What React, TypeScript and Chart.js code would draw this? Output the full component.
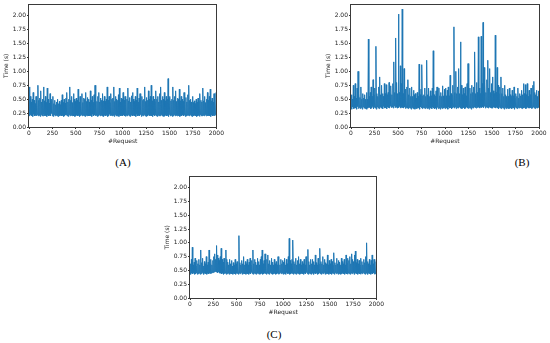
import React, { useEffect, useRef } from 'react';
import { Chart, registerables } from 'chart.js';
Chart.register(...registerables);

// Tick labels
const xTicks = [0, 250, 500, 750, 1000, 1250, 1500, 1750, 2000];
const yTicks = [0, 0.25, 0.5, 0.75, 1.0, 1.25, 1.5, 1.75, 2.0];
const xMax = 2000;
const yMax = 2.2;
const binSize = 10; // requests per bin (low / high envelope)

// (A) response time envelope per bin of 10 requests
const aHighs = [
  0.72, 0.55, 0.45, 0.5, 0.62, 0.48, 0.42, 0.55, 0.5, 0.75,
  0.48, 0.52, 0.65, 0.45, 0.5, 0.72, 0.47, 0.55, 0.44, 0.7,
  0.5, 0.43, 0.6, 0.46, 0.5, 0.55, 0.42, 0.48, 0.4, 0.45,
  0.5, 0.42, 0.46, 0.4, 0.48, 0.58, 0.44, 0.5, 0.43, 0.52,
  0.62, 0.45, 0.5, 0.72, 0.48, 0.55, 0.44, 0.6, 0.5, 0.46,
  0.52, 0.48, 0.68, 0.45, 0.55, 0.47, 0.6, 0.44, 0.52, 0.5,
  0.62, 0.46, 0.53, 0.5, 0.45, 0.65, 0.48, 0.55, 0.44, 0.58,
  0.75, 0.5, 0.46, 0.55, 0.62, 0.45, 0.52, 0.48, 0.6, 0.47,
  0.55, 0.46, 0.5, 0.72, 0.48, 0.55, 0.44, 0.6, 0.5, 0.52,
  0.72, 0.46, 0.55, 0.5, 0.48, 0.58, 0.7, 0.45, 0.52, 0.5,
  0.62, 0.48, 0.55, 0.46, 0.5, 0.7, 0.47, 0.53, 0.45, 0.56,
  0.62, 0.5, 0.46, 0.55, 0.48, 0.7, 0.45, 0.52, 0.6, 0.47,
  0.55, 0.48, 0.5, 0.72, 0.46, 0.53, 0.48, 0.65, 0.5, 0.55,
  0.75, 0.47, 0.55, 0.5, 0.46, 0.65, 0.5, 0.55, 0.45, 0.6,
  0.72, 0.48, 0.55, 0.5, 0.62, 0.47, 0.55, 0.5, 0.87, 0.52,
  0.55, 0.47, 0.5, 0.72, 0.48, 0.55, 0.65, 0.46, 0.52, 0.5,
  0.68, 0.47, 0.55, 0.5, 0.46, 0.62, 0.48, 0.53, 0.45, 0.58,
  0.75, 0.48, 0.5, 0.45, 0.55, 0.44, 0.47, 0.42, 0.5, 0.45,
  0.52, 0.46, 0.6, 0.48, 0.45, 0.7, 0.47, 0.55, 0.44, 0.5,
  0.62, 0.48, 0.55, 0.68, 0.47, 0.52, 0.45, 0.6, 0.5, 0.62,
];
const aLows = [
  0.21, 0.2, 0.22, 0.2, 0.19, 0.23, 0.2, 0.21, 0.2, 0.22,
  0.2, 0.21, 0.19, 0.22, 0.2, 0.2, 0.23, 0.2, 0.21, 0.19,
  0.22, 0.2, 0.21, 0.2, 0.24, 0.2, 0.19, 0.22, 0.2, 0.21,
  0.2, 0.19, 0.21, 0.2, 0.22, 0.2, 0.21, 0.19, 0.2, 0.22,
  0.21, 0.2, 0.19, 0.22, 0.2, 0.21, 0.2, 0.23, 0.2, 0.19,
  0.2, 0.22, 0.2, 0.21, 0.19, 0.2, 0.22, 0.2, 0.21, 0.2,
  0.19, 0.21, 0.2, 0.22, 0.2, 0.2, 0.21, 0.19, 0.23, 0.2,
  0.22, 0.2, 0.21, 0.19, 0.2, 0.22, 0.2, 0.21, 0.2, 0.19,
  0.2, 0.21, 0.2, 0.22, 0.19, 0.2, 0.23, 0.2, 0.21, 0.2,
  0.21, 0.19, 0.22, 0.2, 0.2, 0.21, 0.19, 0.22, 0.2, 0.21,
  0.2, 0.22, 0.2, 0.19, 0.21, 0.2, 0.22, 0.2, 0.19, 0.21,
  0.22, 0.2, 0.21, 0.2, 0.19, 0.23, 0.2, 0.21, 0.2, 0.22,
  0.19, 0.21, 0.2, 0.22, 0.2, 0.19, 0.21, 0.2, 0.22, 0.2,
  0.21, 0.2, 0.19, 0.22, 0.2, 0.21, 0.2, 0.19, 0.21, 0.2,
  0.2, 0.22, 0.2, 0.21, 0.19, 0.2, 0.22, 0.2, 0.21, 0.19,
  0.22, 0.2, 0.21, 0.19, 0.2, 0.22, 0.2, 0.21, 0.2, 0.22,
  0.2, 0.19, 0.21, 0.2, 0.22, 0.2, 0.21, 0.19, 0.2, 0.21,
  0.21, 0.2, 0.22, 0.2, 0.19, 0.21, 0.2, 0.22, 0.2, 0.19,
  0.2, 0.21, 0.19, 0.22, 0.2, 0.2, 0.21, 0.2, 0.22, 0.2,
  0.22, 0.2, 0.21, 0.2, 0.19, 0.22, 0.2, 0.21, 0.2, 0.22,
];

// (B)
const bHighs = [
  0.58, 0.5, 0.75, 0.55, 0.78, 0.52, 0.7, 1.0, 0.6, 0.53,
  0.72, 0.5, 0.6, 0.52, 0.58, 0.5, 0.62, 0.5, 1.58, 0.55,
  0.62, 0.72, 0.55, 0.85, 0.58, 0.7, 1.45, 0.6, 0.55, 0.72,
  0.9, 0.58, 0.75, 0.6, 0.55, 0.78, 0.6, 0.76, 0.58, 0.62,
  0.8, 0.6, 0.74, 0.58, 0.78, 1.17, 0.62, 1.6, 0.8, 0.6,
  2.03, 0.62, 1.1, 0.78, 2.12, 0.6, 1.05, 0.68, 0.58, 0.72,
  0.85, 0.58, 0.7, 0.55, 0.72, 0.55, 0.66, 0.58, 0.6, 0.52,
  0.62, 0.55, 1.13, 0.58, 0.68, 1.12, 0.56, 0.58, 0.7, 0.55,
  1.2, 0.58, 0.7, 0.55, 0.65, 0.56, 0.7, 1.37, 0.58, 0.55,
  0.65, 0.72, 0.55, 0.7, 0.56, 0.62, 0.55, 0.74, 0.56, 0.68,
  0.7, 0.56, 0.66, 0.72, 0.56, 0.93, 0.6, 0.58, 0.75, 1.8,
  0.62, 1.0, 0.6, 0.72, 1.05, 0.6, 1.53, 0.75, 0.58, 0.7,
  0.6, 0.72, 0.56, 0.78, 1.14, 0.58, 0.7, 0.6, 0.75, 0.62,
  0.72, 1.35, 0.6, 0.8, 0.62, 1.62, 0.7, 0.6, 1.63, 0.78,
  1.88, 1.07, 0.8, 0.62, 0.85, 1.2, 0.7, 1.05, 0.62, 0.78,
  0.9, 0.65, 0.6, 1.65, 0.62, 1.07, 0.75, 0.6, 0.72, 0.9,
  0.6, 0.7, 0.55, 0.75, 0.58, 0.55, 0.68, 0.55, 0.7, 0.58,
  0.55, 0.66, 0.56, 0.72, 0.52, 0.6, 0.55, 0.7, 0.52, 0.6,
  0.56, 0.66, 0.58, 0.78, 0.6, 0.76, 0.58, 0.78, 0.55, 0.66,
  0.58, 0.7, 0.6, 0.75, 0.82, 0.62, 0.58, 0.66, 0.55, 0.65,
];
const bLows = [
  0.34, 0.32, 0.36, 0.33, 0.35, 0.34, 0.32, 0.37, 0.33, 0.35,
  0.33, 0.35, 0.32, 0.36, 0.34, 0.33, 0.35, 0.32, 0.34, 0.36,
  0.35, 0.33, 0.34, 0.37, 0.33, 0.35, 0.34, 0.32, 0.36, 0.34,
  0.33, 0.36, 0.34, 0.35, 0.33, 0.37, 0.34, 0.35, 0.33, 0.36,
  0.35, 0.34, 0.37, 0.35, 0.36, 0.34, 0.38, 0.35, 0.36, 0.34,
  0.36, 0.35, 0.37, 0.34, 0.36, 0.35, 0.34, 0.36, 0.33, 0.35,
  0.34, 0.33, 0.35, 0.34, 0.32, 0.35, 0.33, 0.34, 0.32, 0.35,
  0.33, 0.35, 0.34, 0.32, 0.36, 0.34, 0.33, 0.35, 0.34, 0.33,
  0.35, 0.33, 0.34, 0.32, 0.35, 0.34, 0.33, 0.36, 0.34, 0.33,
  0.34, 0.32, 0.35, 0.33, 0.34, 0.32, 0.35, 0.33, 0.34, 0.35,
  0.33, 0.35, 0.34, 0.32, 0.36, 0.34, 0.35, 0.33, 0.34, 0.36,
  0.34, 0.36, 0.33, 0.35, 0.34, 0.36, 0.35, 0.34, 0.33, 0.35,
  0.35, 0.33, 0.34, 0.36, 0.34, 0.33, 0.35, 0.34, 0.32, 0.35,
  0.34, 0.36, 0.35, 0.34, 0.37, 0.35, 0.36, 0.34, 0.36, 0.35,
  0.36, 0.35, 0.37, 0.34, 0.36, 0.35, 0.34, 0.36, 0.35, 0.34,
  0.35, 0.34, 0.36, 0.35, 0.34, 0.36, 0.34, 0.33, 0.35, 0.34,
  0.33, 0.35, 0.34, 0.32, 0.35, 0.33, 0.34, 0.35, 0.33, 0.34,
  0.34, 0.33, 0.35, 0.34, 0.32, 0.35, 0.34, 0.33, 0.35, 0.34,
  0.35, 0.34, 0.33, 0.36, 0.34, 0.35, 0.33, 0.34, 0.36, 0.34,
  0.34, 0.35, 0.33, 0.34, 0.36, 0.34, 0.33, 0.35, 0.34, 0.35,
];

// (C)
const cHighs = [
  0.62, 0.7, 0.92, 0.6, 0.65, 0.72, 0.58, 0.68, 0.62, 0.7,
  0.6, 0.87, 0.64, 0.72, 0.58, 0.66, 0.62, 0.75, 0.6, 0.65,
  0.87, 0.62, 0.7, 0.6, 0.68, 0.75, 0.8, 0.7, 0.95, 0.78,
  0.72, 0.68, 0.75, 0.9, 0.7, 0.65, 0.72, 0.66, 0.87, 0.7,
  0.65, 0.6, 0.7, 0.62, 0.68, 0.58, 0.64, 0.6, 0.7, 0.62,
  0.66, 0.6, 1.13, 0.64, 0.6, 0.68, 0.62, 0.75, 0.6, 0.66,
  0.62, 0.7, 0.6, 0.65, 0.72, 0.6, 0.68, 0.87, 0.62, 0.7,
  0.65, 0.6, 0.72, 0.66, 0.6, 0.7, 0.75, 0.87, 0.62, 0.68,
  0.8, 0.65, 0.7, 0.78, 0.62, 0.68, 0.6, 0.72, 0.65, 0.6,
  0.7, 0.62, 0.66, 0.6, 0.75, 0.64, 0.6, 0.7, 0.62, 0.68,
  0.65, 0.72, 0.6, 0.7, 0.62, 0.75, 1.08, 0.68, 0.62, 0.7,
  1.05, 0.66, 0.62, 0.72, 0.6, 0.68, 0.75, 0.62, 0.7, 0.6,
  0.66, 0.62, 0.7, 0.6, 0.75, 0.64, 0.88, 0.66, 0.6, 0.7,
  0.62, 0.7, 0.66, 0.6, 0.78, 0.64, 0.6, 0.72, 0.62, 0.9,
  0.66, 0.62, 0.75, 0.6, 0.7, 0.64, 0.62, 0.78, 0.6, 0.68,
  0.62, 0.7, 0.66, 0.6, 0.82, 0.64, 0.6, 0.72, 0.62, 0.68,
  0.65, 0.6, 0.72, 0.66, 0.62, 0.7, 0.6, 0.78, 0.64, 0.72,
  0.68, 0.75, 0.62, 0.8, 0.7, 0.66, 0.78, 0.85, 0.64, 0.7,
  0.62, 0.68, 0.6, 0.72, 0.66, 0.6, 0.7, 0.64, 0.75, 1.0,
  0.66, 0.62, 0.7, 0.6, 0.68, 0.78, 0.62, 0.7, 0.6, 0.66,
];
const cLows = [
  0.44, 0.43, 0.45, 0.44, 0.46, 0.43, 0.44, 0.45, 0.43, 0.44,
  0.45, 0.43, 0.44, 0.46, 0.44, 0.43, 0.45, 0.44, 0.43, 0.45,
  0.44, 0.45, 0.44, 0.45, 0.46, 0.46, 0.47, 0.48, 0.47, 0.47,
  0.46, 0.47, 0.45, 0.45, 0.44, 0.45, 0.43, 0.44, 0.45, 0.43,
  0.44, 0.45, 0.43, 0.44, 0.46, 0.44, 0.43, 0.45, 0.44, 0.43,
  0.45, 0.44, 0.43, 0.45, 0.44, 0.46, 0.43, 0.44, 0.45, 0.44,
  0.43, 0.45, 0.44, 0.43, 0.45, 0.44, 0.46, 0.44, 0.43, 0.45,
  0.44, 0.43, 0.45, 0.44, 0.46, 0.43, 0.44, 0.45, 0.43, 0.44,
  0.45, 0.44, 0.43, 0.45, 0.44, 0.43, 0.46, 0.44, 0.45, 0.43,
  0.44, 0.45, 0.43, 0.44, 0.45, 0.43, 0.44, 0.46, 0.44, 0.45,
  0.43, 0.44, 0.45, 0.43, 0.46, 0.44, 0.45, 0.43, 0.44, 0.45,
  0.44, 0.43, 0.45, 0.44, 0.43, 0.45, 0.44, 0.46, 0.43, 0.44,
  0.45, 0.44, 0.43, 0.45, 0.44, 0.46, 0.44, 0.43, 0.45, 0.44,
  0.43, 0.45, 0.44, 0.43, 0.45, 0.44, 0.46, 0.43, 0.44, 0.45,
  0.44, 0.43, 0.45, 0.44, 0.46, 0.43, 0.44, 0.45, 0.44, 0.43,
  0.45, 0.44, 0.43, 0.45, 0.44, 0.43, 0.46, 0.44, 0.45, 0.43,
  0.44, 0.45, 0.43, 0.44, 0.46, 0.44, 0.43, 0.45, 0.44, 0.43,
  0.45, 0.44, 0.43, 0.45, 0.44, 0.46, 0.43, 0.44, 0.45, 0.44,
  0.43, 0.45, 0.44, 0.43, 0.45, 0.44, 0.46, 0.44, 0.43, 0.45,
  0.44, 0.43, 0.45, 0.44, 0.43, 0.45, 0.44, 0.46, 0.43, 0.44,
];

const panelLabels = ['(A)', '(B)', '(C)'];
const xTitle = '#Request';
const yTitle = 'Time (s)';

function buildPoints(lows: number[], highs: number[]) {
  return highs.flatMap((h, i) => [
    { x: i * binSize, y: lows[i] },
    { x: i * binSize + binSize / 2, y: h },
  ]);
}

const framePlugin = {
  id: 'frame',
  afterDraw(chart: any) {
    const { ctx, chartArea } = chart;
    const { left, top, right, bottom } = chartArea;
    ctx.save();
    ctx.strokeStyle = '#3a3a3a';
    ctx.lineWidth = 1;
    ctx.strokeRect(Math.round(left) - 0.5, Math.round(top) - 0.5, Math.round(right - left) + 1, Math.round(bottom - top) + 1);
    ctx.restore();
  },
};

const tickFont = { family: 'DejaVu Sans', size: 6 };
const textColor = '#222';

function Panel(props: { lows: number[]; highs: number[]; left: number; top: number; width: number; height: number; padRight: number }) {
  const ref = useRef<HTMLCanvasElement>(null);
  const { lows, highs, left, top, width, height, padRight } = props;
  useEffect(() => {
    if (!ref.current) return;
    const chart = new Chart(ref.current, {
      type: 'line',
      data: {
        datasets: [
          {
            data: buildPoints(lows, highs),
            borderColor: '#1f77b4',
            borderWidth: 1,
            pointRadius: 0,
            fill: false,
            tension: 0,
          },
        ],
      },
      options: {
        animation: false,
        responsive: false,
        maintainAspectRatio: false,
        devicePixelRatio: 1,
        layout: { padding: { top: 4, right: padRight, left: 0, bottom: 0 } },
        plugins: { legend: { display: false }, tooltip: { enabled: false }, title: { display: false } },
        scales: {
          x: {
            type: 'linear',
            min: 0,
            max: xMax,
            afterBuildTicks: (s: any) => {
              s.ticks = xTicks.map((v) => ({ value: v }));
            },
            afterFit: (s: any) => {
              s.height = 20;
            },
            ticks: { font: tickFont, color: textColor, padding: 1, maxRotation: 0, autoSkip: false, callback: (v: any) => String(v) },
            grid: { display: true, drawOnChartArea: false, drawTicks: true, tickLength: 2, color: '#333' },
            border: { display: false },
            title: { display: true, text: xTitle, font: tickFont, color: textColor, padding: { top: 0, bottom: 2 } },
          },
          y: {
            type: 'linear',
            min: 0,
            max: yMax,
            afterBuildTicks: (s: any) => {
              s.ticks = yTicks.map((v) => ({ value: v }));
            },
            afterFit: (s: any) => {
              s.width = 29;
            },
            ticks: { font: tickFont, color: textColor, padding: 1, autoSkip: false, callback: (v: any) => Number(v).toFixed(2) },
            grid: { display: true, drawOnChartArea: false, drawTicks: true, tickLength: 2, color: '#333' },
            border: { display: false },
            title: { display: true, text: yTitle, font: tickFont, color: textColor, padding: { top: 3, bottom: 0 } },
          },
        },
      },
      plugins: [framePlugin],
    } as any);
    return () => chart.destroy();
  }, []);
  return <canvas ref={ref} width={width} height={height} style={{ position: 'absolute', left, top, width, height }} />;
}

const labelStyle = (cx: number, cy: number): React.CSSProperties => ({
  position: 'absolute',
  left: cx - 20,
  top: cy - 7,
  width: 40,
  height: 14,
  lineHeight: '14px',
  textAlign: 'center',
  fontFamily: '"Liberation Serif", serif',
  fontSize: 11,
  fontWeight: 'normal',
  color: '#000',
});

export default function App() {
  return (
    <div style={{ position: 'absolute', left: 0, top: 0, width: 550, height: 343, background: '#fff', overflow: 'hidden' }}>
      <Panel lows={aLows} highs={aHighs} left={0} top={0} width={225} height={147} padRight={8} />
      <Panel lows={bLows} highs={bHighs} left={322} top={0} width={228} height={147} padRight={11} />
      <Panel lows={cLows} highs={cHighs} left={161} top={172} width={224} height={146} padRight={7} />
      <div style={labelStyle(123, 162)}>{panelLabels[0]}</div>
      <div style={labelStyle(522, 162)}>{panelLabels[1]}</div>
      <div style={labelStyle(274, 334)}>{panelLabels[2]}</div>
    </div>
  );
}
